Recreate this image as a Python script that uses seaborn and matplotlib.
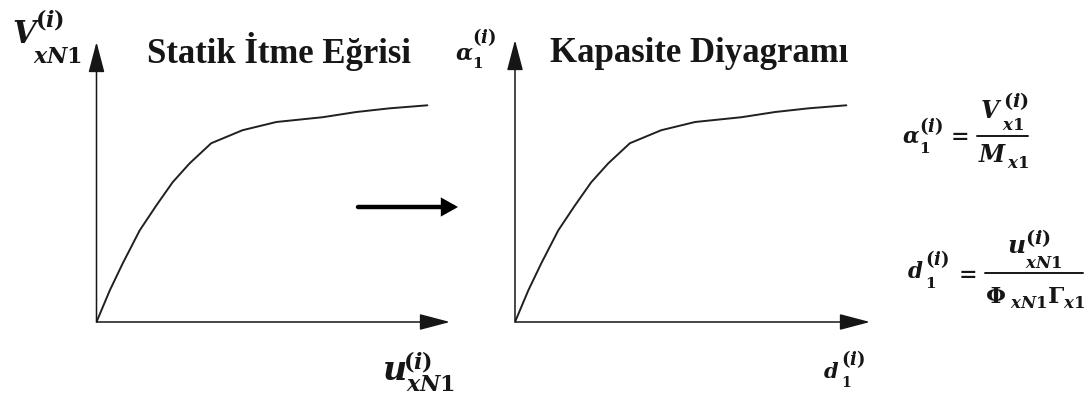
import matplotlib
matplotlib.use("Agg")
import matplotlib.pyplot as plt
from matplotlib.lines import Line2D
from matplotlib.patches import FancyArrowPatch
import numpy as np
import pandas as pd
import seaborn as sns

# Pushover curve: roof displacement u (cm) vs. base shear V (kN)
displacement = [0.0, 0.40, 0.79, 1.30, 1.80, 2.29, 2.80, 3.45, 4.39, 5.41, 6.80, 7.81, 8.81, 9.95]
base_shear = [0, 146, 271, 423, 538, 645, 732, 825, 885, 923, 945, 969, 986, 1000]

# Conversion factors to the spectral (capacity) format
phi_gamma = 1.25      # Phi_xN1 * Gamma_x1
modal_mass = 5000.0   # M_x1

titles = ["Statik İtme Eğrisi", "Kapasite Diyagramı"]

sns.set_theme(style="white")
plt.rcParams["font.family"] = ["Liberation Serif", "DejaVu Serif"]
plt.rcParams["mathtext.fontset"] = "custom"
plt.rcParams["mathtext.rm"] = "DejaVu Serif:bold"
plt.rcParams["mathtext.it"] = "DejaVu Serif:italic:bold"
plt.rcParams["mathtext.bf"] = "DejaVu Serif:bold"

W, H = 1088, 397
fig = plt.figure(figsize=(W / 100, H / 100), dpi=100)
fig.patch.set_facecolor("white")

pushover = pd.DataFrame({"u": displacement, "V": base_shear})
capacity = pd.DataFrame({"d": np.array(displacement) / phi_gamma,
                         "a": np.array(base_shear) / modal_mass})

def fx(x):
    return x / W

def fy(y):
    return (H - y) / H

def px_axes(x0, y0, x1, y1):
    """Axes spanning the pixel box whose origin is (x0, y0) and far corner (x1, y1), y from top."""
    return fig.add_axes([fx(x0), fy(y0), (x1 - x0) / W, (y0 - y1) / H])

ink = "#161616"

def draw_panel(ax, df, x, y, xmax, ymax):
    sns.lineplot(data=df, x=x, y=y, ax=ax, color="#202020", lw=1.4, sort=False)
    ax.set_xlim(0, xmax)
    ax.set_ylim(0, ymax)
    ax.set_xticks([])
    ax.set_yticks([])
    ax.set_xlabel("")
    ax.set_ylabel("")
    ax.set_facecolor("none")
    for s in ax.spines.values():
        s.set_visible(False)
    arrow = dict(arrowstyle="-|>,head_length=1.9,head_width=0.5", mutation_scale=10,
                 lw=1.1, color=ink, shrinkA=0, shrinkB=0)
    ax.annotate("", xy=(1, 0), xytext=(0, 0), xycoords="axes fraction", arrowprops=arrow,
                annotation_clip=False)
    ax.annotate("", xy=(0, 1), xytext=(0, 0), xycoords="axes fraction", arrowprops=arrow,
                annotation_clip=False)

# left panel: pushover curve
ax1 = px_axes(96.5, 322, 450, 42)
draw_panel(ax1, pushover, "u", "V", 354 / 33.3, 280 / 0.2167)

# right panel: capacity diagram
ax2 = px_axes(515, 322, 870, 40)
draw_panel(ax2, capacity, "d", "a", 355 / 33.3 / phi_gamma, 282 / 0.2167 / modal_mass)

def put(x, y, s, size, va="baseline", **kw):
    """Math glyph group with its left edge at x and baseline at y (pixels from top)."""
    fig.text(fx(x), fy(y), s, fontsize=size, color=ink, va=va, ha="left", **kw)

def fraction_bar(x0, x1, y):
    fig.add_artist(Line2D([fx(x0), fx(x1)], [fy(y), fy(y)], transform=fig.transFigure,
                          color=ink, lw=1.4))

# panel titles
put(147, 63, titles[0], 25, fontweight="bold")
put(550, 62, titles[1], 25, fontweight="bold")

# V_xN1^(i)
put(12, 43, r"$V$", 22)
put(33, 63, r"$xN1$", 16)
put(35, 27, r"$(i)$", 16)

# u_xN1^(i)
put(382, 380, r"$u$", 24)
put(406, 391, r"$xN1$", 16)
put(403, 369, r"$(i)$", 16)

# alpha_1^(i)
put(455, 60, r"$\alpha$", 16)
put(472, 68, r"$1$", 11)
put(472, 43, r"$(i)$", 13)

# d_1^(i)
put(823, 378, r"$d$", 15)
put(841, 387, r"$1$", 10)
put(841, 365, r"$(i)$", 13)

# alpha_1^(i) = V_x1^(i) / M_x1
put(902, 143, r"$\alpha$", 15.5)
put(919, 153, r"$1$", 11)
put(919, 132, r"$(i)$", 13)
put(946, 136.5, r"$=$", 16, va="center")
fraction_bar(977, 1028, 135.5)
put(980, 118, r"$V$", 17)
put(1002, 130, r"$x1$", 12)
put(1003, 107, r"$(i)$", 14)
put(978, 162, r"$M$", 17)
put(1007, 168, r"$x1$", 12)

# d_1^(i) = u_xN1^(i) / (Phi_xN1 Gamma_x1)
put(907, 278, r"$d$", 15.5)
put(925, 288, r"$1$", 11)
put(925, 265, r"$(i)$", 13)
put(954, 275, r"$=$", 16, va="center")
fraction_bar(985, 1083, 273)
put(1007, 253, r"$u$", 18)
put(1025, 268, r"$xN1$", 12)
put(1025, 244, r"$(i)$", 14)
put(985, 303, r"$\Phi$", 16.5)
put(1010, 308, r"$xN1$", 12)
put(1047, 303, r"$\Gamma$", 16.5)
put(1063, 308, r"$x1$", 12)

# arrow between the two diagrams
fig.add_artist(FancyArrowPatch(
    (fx(358), fy(207)), (fx(458), fy(207)), transform=fig.transFigure,
    arrowstyle="-|>,head_length=0.75,head_width=0.42", mutation_scale=10,
    lw=3.2, color="black", shrinkA=0, shrinkB=0, joinstyle="miter"))

fig.savefig("out.png", dpi=100, facecolor="white")
